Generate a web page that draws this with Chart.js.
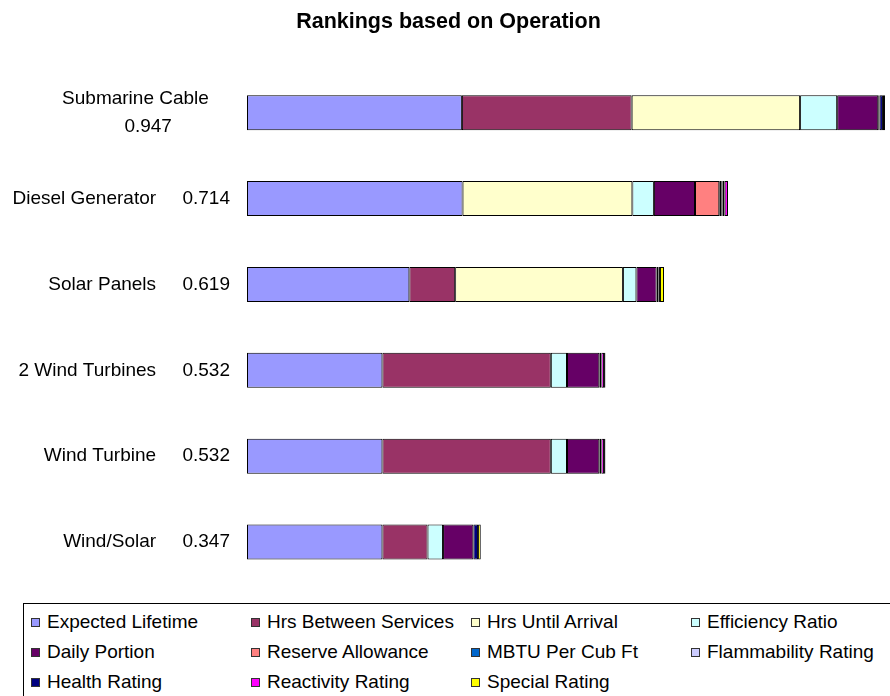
<!DOCTYPE html>
<html>
<head>
<meta charset="utf-8">
<title>Rankings based on Operation</title>
<script src="https://cdn.jsdelivr.net/npm/chart.js@4.4.0/dist/chart.umd.min.js"></script>
<style>
  body { margin: 0; background: #fff; font-family: "Liberation Sans", Arial, sans-serif; }
  #wrap { position: relative; width: 890px; height: 696px; overflow: hidden; }
  #chartBox { position: absolute; left: 0; top: 0; width: 890px; height: 592px; }
  #legend {
    position: absolute; left: 23px; top: 603px; width: 900px; height: 120px;
    border: 1px solid #000; box-sizing: border-box; padding: 3px 0 0 7px;
    display: grid; grid-template-columns: repeat(4, 220px); grid-auto-rows: 30px;
  }
  .item { display: flex; align-items: center; font-size: 19px; color: #000; white-space: nowrap; }
  .sw { width: 7px; height: 7px; border: 1px solid #333; margin-right: 7px; flex: none; }
</style>
</head>
<body>
<div id="wrap">
  <div id="chartBox"><canvas id="rankChart"></canvas></div>
  <div id="legend"></div>
</div>
<script>
// alternatives, top to bottom
const categories = ["Submarine Cable", "Diesel Generator", "Solar Panels", "2 Wind Turbines", "Wind Turbine", "Wind/Solar"];

const seriesNames = [
    "Expected Lifetime", "Hrs Between Services", "Hrs Until Arrival", "Efficiency Ratio",
    "Daily Portion", "Reserve Allowance", "MBTU Per Cub Ft", "Flammability Rating",
    "Health Rating", "Reactivity Rating", "Special Rating"
];

const seriesColors = [
    "#9999FF", "#993366", "#FFFFCC", "#CCFFFF",
    "#660066", "#FF8080", "#0066CC", "#CCCCFF",
    "#000080", "#FF00FF", "#FFFF00"
];

// weighted scores per criterion, one value per alternative
const expectedLifetime   = [0.319, 0.320, 0.241, 0.201, 0.201, 0.201];
const hrsBetweenServices = [0.252, 0,     0.068, 0.250, 0.250, 0.067];
const hrsUntilArrival    = [0.250, 0.252, 0.249, 0,     0,     0];
const efficiencyRatio    = [0.055, 0.032, 0.020, 0.024, 0.024, 0.023];
const dailyPortion       = [0.061, 0.061, 0.030, 0.048, 0.048, 0.045];
const reserveAllowance   = [0,     0.036, 0,     0,     0,     0];
const mbtuPerCubFt       = [0,     0.003, 0,     0,     0,     0];
const flammability       = [0.002, 0.002, 0.003, 0,     0,     0];
const healthRating       = [0.005, 0.003, 0.002, 0.003, 0.003, 0.007];
const reactivityRating   = [0,     0.005, 0,     0.004, 0.004, 0];
const specialRating      = [0.003, 0,     0.006, 0.002, 0.002, 0.004];

const seriesValues = [
    expectedLifetime, hrsBetweenServices, hrsUntilArrival, efficiencyRatio,
    dailyPortion, reserveAllowance, mbtuPerCubFt, flammability,
    healthRating, reactivityRating, specialRating
];

const FONT = '"Liberation Sans", Arial, sans-serif';

// total score for each alternative = sum of its segments
const totals = categories.map((c, i) => seriesValues.reduce((s, arr) => s + arr[i], 0));

// long label goes on two lines, the rest keep the score on the same line
const WRAPPED = ["Submarine Cable"];
function tickLabel(i) {
    const name = categories[i];
    const score = totals[i].toFixed(3);
    if (WRAPPED.includes(name)) {
        return [name + "    ", score + " ".repeat(11)];
    }
    return name + "     " + score;
}

const datasets = seriesNames.map((name, k) => ({
    label: name,
    data: seriesValues[k],
    backgroundColor: seriesColors[k],
    borderColor: "#000",
    borderWidth: 1,
    borderSkipped: false,
    barPercentage: 0.408,
    categoryPercentage: 1
}));

new Chart(document.getElementById("rankChart"), {
    type: "bar",
    data: { labels: categories, datasets: datasets },
    options: {
        indexAxis: "y",
        responsive: true,
        maintainAspectRatio: false,
        animation: false,
        layout: { padding: { top: 0, right: 3, bottom: 7, left: 10 } },
        scales: {
            x: { stacked: true, min: 0, max: 0.95, display: false },
            y: {
                stacked: true,
                grid: { display: false, drawTicks: false },
                border: { display: false },
                ticks: {
                    padding: 17,
                    color: "#000",
                    font: { family: FONT, size: 19, lineHeight: 1.45 },
                    callback: (v, i) => tickLabel(i)
                },
                afterFit: s => {
                    s.width = 237;
                    // labels sit inside the bands, no extra room needed above/below
                    s.paddingTop = 0;
                    s.paddingBottom = 0;
                }
            }
        },
        plugins: {
            legend: { display: false },
            tooltip: { enabled: false },
            title: {
                display: true,
                text: "Rankings based on Operation",
                color: "#000",
                font: { family: FONT, size: 21.5, weight: "bold" },
                padding: { top: 9, bottom: 35 }
            }
        }
    }
});

// ===== LEGEND =====
let legendHTML = "";
seriesNames.forEach((name, k) => {
    legendHTML += `<div class="item"><span class="sw" style="background:${seriesColors[k]}"></span>${name}</div>`;
});
document.getElementById("legend").innerHTML = legendHTML;
</script>
</body>
</html>
